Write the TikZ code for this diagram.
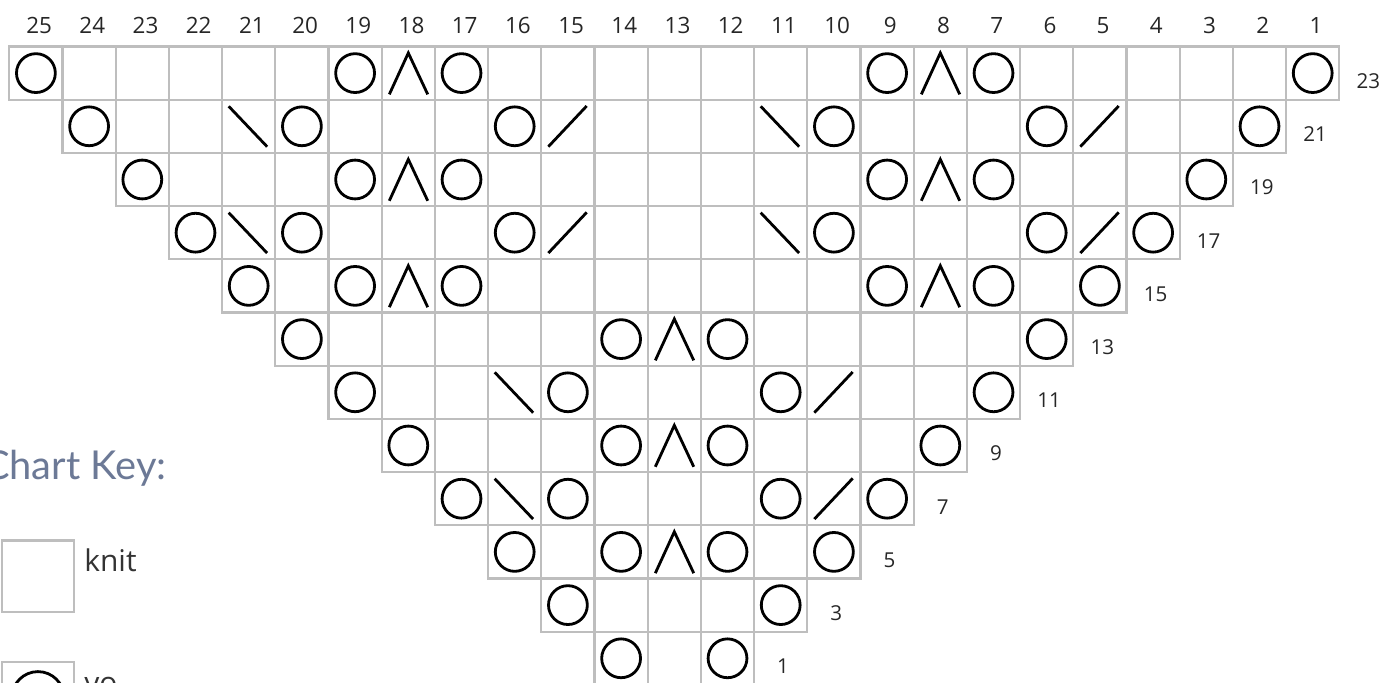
\documentclass[tikz,border=0pt]{standalone}
\usepackage{fontspec}
\setmainfont{Open Sans}
\newfontfamily\keyfont{Lato}
\usepackage{tikz}
\usetikzlibrary{positioning}
\usepackage{xcolor}
\definecolor{keyblue}{RGB}{108,121,150}
\definecolor{gridgray}{RGB}{190,190,190}

\begin{document}
\begin{tikzpicture}[
    cell/.style={draw=gridgray, line width=1.2pt},
    stitch/.style={line width=1.5pt},
    colnum/.style={font=\fontsize{12}{14}\selectfont, text=black!85, inner sep=0pt},
    rownum/.style={font=\fontsize{11}{13}\selectfont, text=black!85, inner sep=0pt},
    keytext/.style={font=\fontsize{16}{18}\selectfont, text=black!80, inner sep=0pt, anchor=base west},
    yo/.pic={\draw[stitch] (0,0) circle (0.365);},
    cdd/.pic={\draw[stitch] (-0.357,-0.40) -- (0,0.378) -- (0.365,-0.40);},
    ssk/.pic={\draw[stitch] (-0.376,0.376) -- (0.346,-0.383);},
    ktog/.pic={\draw[stitch] (-0.368,-0.383) -- (0.353,0.382);}]
  \useasboundingbox (0,0) rectangle (26.278,-12.82);

  \begin{scope}[shift={(0.175,-0.874)}]
    % grid: each row loses one cell at both ends
    \foreach \i in {0,...,11} {
      \pgfmathtruncatemacro{\last}{24-\i}
      \foreach \k in {\i,...,\last}
        \draw[cell] (\k,-\i) rectangle ++(1,-1);
    }
    % column numbers
    \foreach \c in {25,...,1}
      \node[colnum] (col\c) at ({25.56-\c},0.398) {\c};
    % row numbers
    \foreach \r in {23,21,...,1} {
      \pgfmathsetmacro{\i}{(23-\r)/2}
      \node[rownum] (row\r) at ({25.545-\i},{-\i-0.65}) {\r};
    }
    % yarn overs
    \foreach \r/\cols in {23/{25,19,17,9,7,1}, 21/{24,20,16,10,6,2},
        19/{23,19,17,9,7,3}, 17/{22,20,16,10,6,4}, 15/{21,19,17,9,7,5},
        13/{20,14,12,6}, 11/{19,15,11,7}, 9/{18,14,12,8}, 7/{17,15,11,9},
        5/{16,14,12,10}, 3/{15,11}, 1/{14,12}}
      \foreach \c in \cols
        \pic at ({25.5-\c},{(\r-24)/2}) {yo};
    % centred double decreases
    \foreach \r/\c in {23/18, 23/8, 19/18, 19/8, 15/18, 15/8, 13/13, 9/13, 5/13}
      \pic at ({25.5-\c},{(\r-24)/2}) {cdd};
    % left-leaning decreases
    \foreach \r/\c in {21/21, 21/11, 17/21, 17/11, 11/16, 7/16}
      \pic at ({25.5-\c},{(\r-24)/2}) {ssk};
    % right-leaning decreases
    \foreach \r/\c in {21/15, 21/5, 17/15, 17/5, 11/10, 7/10}
      \pic at ({25.5-\c},{(\r-24)/2}) {ktog};
  \end{scope}

  % key
  \node[font=\keyfont\fontsize{21.3}{24}\selectfont, text=keyblue, anchor=base east, inner sep=0pt] (keytitle) at (3.139,-9.009) {Chart Key:};
  \node[cell, minimum size=1.348cm, inner sep=0pt, anchor=north west] (keyknit) at (0.019,-10.137) {};
  \node[keytext] (knit) at (1.579,-10.746) {knit};
  \node[cell, minimum size=1.348cm, inner sep=0pt, anchor=north west] (keyyo) at (0.019,-12.419) {};
  \draw[stitch] (keyyo.center) circle (0.49);
  \node[keytext] (yo) at (1.579,-13.028) {yo};
\end{tikzpicture}
\end{document}
